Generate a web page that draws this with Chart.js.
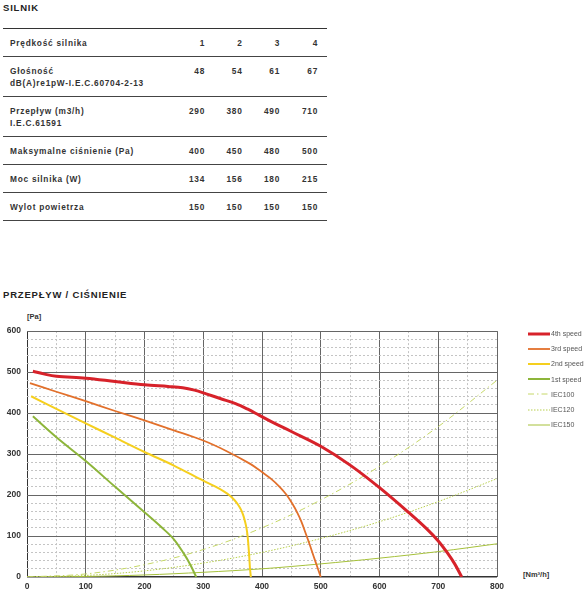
<!DOCTYPE html>
<html lang="pl">
<head>
<meta charset="utf-8">
<title>Silnik – przepływ / ciśnienie</title>
<script src="https://cdn.jsdelivr.net/npm/chart.js@4.4.1/dist/chart.umd.min.js"></script>
<style>
  body {
    margin: 0;
    width: 584px;
    height: 600px;
    position: relative;
    overflow: hidden;
    background: #fff;
    font-family: "Liberation Sans", Arial, sans-serif;
    color: #333;
  }
  .title {
    position: absolute;
    left: 3px;
    font-size: 9.5px;
    font-weight: bold;
    letter-spacing: 0.8px;
    line-height: 12px;
    color: #222;
  }
  table.spec {
    position: absolute;
    left: 3px;
    top: 28px;
    width: 324px;
    border-collapse: collapse;
    table-layout: fixed;
    font-size: 8.3px;
    font-weight: bold;
    letter-spacing: 0.75px;
    color: #333;
    border-top: 1px solid #333;
  }
  .spec td {
    padding: 8px 0 7px;
    line-height: 12px;
    border-bottom: 1px solid #444;
    vertical-align: top;
    text-align: right;
  }
  .spec td:first-child { text-align: left; padding-left: 7px; }
  .spec td:last-child { padding-right: 9px; }
  .unit {
    position: absolute;
    font-size: 7.5px;
    font-weight: bold;
    line-height: 10px;
    color: #333;
  }
  #chartBox { position: absolute; left: 0; top: 320px; width: 584px; height: 280px; }
  #legend { position: absolute; left: 528px; top: 326px; font-size: 7px; color: #555; }
  #legend .item { height: 15.2px; display: flex; align-items: center; }
  #legend svg { margin-right: 1px; }
</style>
</head>
<body>
<div class="title" style="top:2px">SILNIK</div>

<table class="spec">
  <colgroup>
    <col style="width:164.5px"><col style="width:37.5px"><col style="width:37.5px"><col style="width:37.5px"><col style="width:47px">
  </colgroup>
  <tbody id="specBody"></tbody>
</table>

<div class="title" style="top:289px">PRZEPŁYW / CIŚNIENIE</div>
<div class="unit" style="left:27px; top:312px">[Pa]</div>
<div class="unit" style="left:523px; top:570px">[Nm³/h]</div>

<div id="chartBox"><canvas id="fanChart" width="584" height="280"></canvas></div>
<div id="legend"></div>

<script>
// tabela parametrów silnika
const specRows = [
  ["Prędkość silnika", ["1", "2", "3", "4"]],
  ["Głośność<br>dB(A)re1pW-I.E.C.60704-2-13", ["48", "54", "61", "67"]],
  ["Przepływ (m3/h)<br>I.E.C.61591", ["290", "380", "490", "710"]],
  ["Maksymalne ciśnienie (Pa)", ["400", "450", "480", "500"]],
  ["Moc silnika (W)", ["134", "156", "180", "215"]],
  ["Wylot powietrza", ["150", "150", "150", "150"]],
];

// osie
const flowLabels = [0, 100, 200, 300, 400, 500, 600, 700, 800];
const pressureLabels = [0, 100, 200, 300, 400, 500, 600];

// krzywe wentylatora [przepływ, ciśnienie]
const speed4 = [[10, 502], [30, 495], [50, 490], [100, 485], [150, 477], [200, 469], [240, 465],
  [265, 462], [285, 456], [305, 447], [330, 435], [355, 423], [375, 410], [395, 395], [420, 376],
  [450, 355], [500, 319], [550, 273], [600, 218], [650, 157], [680, 118], [700, 88], [715, 60],
  [728, 32], [740, 0]];
const speed3 = [[5, 473], [50, 452], [100, 429], [150, 405], [200, 382], [250, 358], [300, 333],
  [340, 307], [380, 276], [400, 256], [415, 240], [430, 220], [442, 200], [452, 178], [460, 157],
  [467, 135], [474, 108], [481, 80], [488, 50], [494, 25], [500, 0]];
const speed2 = [[7, 441], [50, 410], [100, 375], [150, 340], [200, 305], [250, 272], [300, 235],
  [320, 221], [335, 209], [345, 199], [353, 188], [359, 177], [364, 165], [368, 151], [371, 136],
  [373.5, 120], [375.5, 100], [377, 75], [378.5, 45], [379.5, 22], [381, 0]];
const speed1 = [[10, 392], [50, 341], [100, 283], [150, 220], [200, 158], [230, 120], [250, 92],
  [267, 57], [278, 30], [288, 0]];

// charakterystyki instalacji
const iecFlow = [0, 100, 200, 300, 400, 500, 600, 700, 800];
const iec100 = [0, 7.5, 30, 67, 120, 188, 270, 367, 480];
const iec120 = [0, 3.8, 15, 34, 60, 94, 135, 184, 240];
const iec150 = [0, 1.3, 5, 11.5, 20, 32, 46, 62, 81];

const tickFont = { family: "Liberation Sans", size: 8.5, weight: "bold" };

function renderSpec() {
  document.getElementById("specBody").innerHTML = specRows
    .map(([label, values]) => `<tr><td>${label}</td>${values.map((v) => `<td>${v}</td>`).join("")}</tr>`)
    .join("");
}

function toPoints(pairs) {
  return pairs.map(([x, y]) => ({ x, y }));
}

function iecPoints(values) {
  return values.map((y, i) => ({ x: iecFlow[i], y }));
}

function curve(label, data, color, width, dash) {
  return {
    label,
    data,
    borderColor: color,
    borderWidth: width,
    borderDash: dash || [],
    pointRadius: 0,
    showLine: true,
    fill: false,
    tension: 0.35,
  };
}

function isMajor(ctx, labels) {
  return ctx.tick && labels.includes(ctx.tick.value);
}

function axis(min, max, step, labels, isX) {
  return {
    type: "linear",
    min,
    max,
    ticks: {
      stepSize: step,
      autoSkip: false,
      maxRotation: 0,
      padding: isX ? 5 : 6,
      color: "#333",
      font: tickFont,
      callback: (value) => (labels.includes(value) ? value : ""),
    },
    grid: {
      drawTicks: false,
      color: (ctx) => (isMajor(ctx, labels) ? (ctx.tick.value === 0 ? "#333" : "#666") : "#c4c4c4"),
      lineWidth: (ctx) => (ctx.tick && ctx.tick.value === 0 && isX === false ? 1.5 : 1),
    },
    border: {
      display: false,
      dash: (ctx) => (ctx.tick && !labels.includes(ctx.tick.value) ? [2, 2] : []),
    },
    afterFit(scale) {
      if (isX) scale.height = 23;
      else scale.width = 27;
    },
  };
}

function renderLegend(datasets) {
  document.getElementById("legend").innerHTML = datasets
    .map(
      (ds) => `
        <div class="item">
          <svg width="22" height="4"><line x1="0" y1="2" x2="22" y2="2" stroke="${ds.borderColor}"
            stroke-width="${ds.borderWidth}" stroke-dasharray="${ds.borderDash.join(" ") || "none"}"/></svg>
          <span>${ds.label}</span>
        </div>`,
    )
    .join("");
}

function renderChart() {
  const datasets = [
    curve("4th speed", toPoints(speed4), "#d7222a", 3),
    curve("3rd speed", toPoints(speed3), "#e2702b", 1.8),
    curve("2nd speed", toPoints(speed2), "#f5cf1e", 2),
    curve("1st speed", toPoints(speed1), "#8db53a", 2),
    curve("IEC100", iecPoints(iec100), "#c6d868", 1, [6, 3, 1.5, 3]),
    curve("IEC120", iecPoints(iec120), "#b7ce4c", 1, [1.5, 1.5]),
    curve("IEC150", iecPoints(iec150), "#a6c13b", 1),
  ];

  new Chart(document.getElementById("fanChart"), {
    type: "scatter",
    data: { datasets },
    options: {
      responsive: false,
      animation: false,
      layout: { padding: { top: 9, right: 87, left: 0, bottom: 0 } },
      plugins: { legend: { display: false }, tooltip: { enabled: false } },
      scales: {
        x: axis(0, 800, 50, flowLabels, true),
        y: axis(0, 600, 20, pressureLabels, false),
      },
    },
  });

  renderLegend(datasets);
}

renderSpec();
renderChart();
</script>
</body>
</html>
